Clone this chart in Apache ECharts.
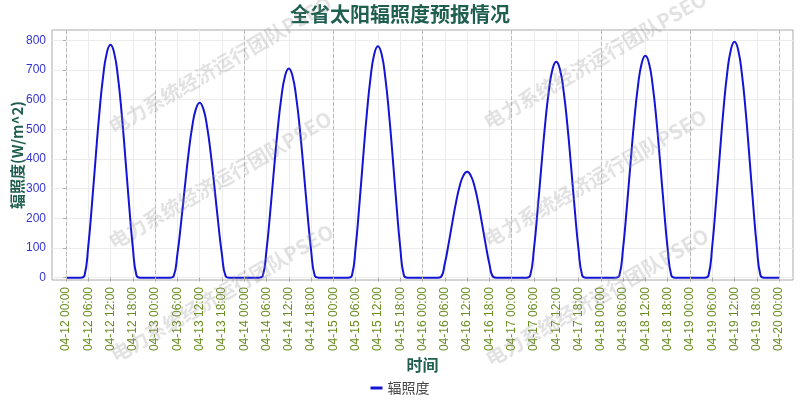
<!DOCTYPE html>
<html>
<head>
<meta charset="utf-8">
<script src="https://cdn.jsdelivr.net/npm/echarts@6/dist/echarts.min.js"></script>
<style>html,body{margin:0;padding:0;background:#fff}#c{width:800px;height:400px}</style>
</head>
<body>
<div id="c"></div>
<script>
// Hourly irradiance (W/m^2) for each day, hours 00..23
var day0412 = [0,0,0,0,0,7,104,246,404,555,677,757,785,757,677,555,404,246,104,7,0,0,0,0];
var day0413 = [0,0,0,0,0,5,78,185,304,417,509,569,590,569,509,417,304,185,78,5,0,0,0,0];
var day0414 = [0,0,0,0,0,6,93,221,363,498,608,680,705,680,608,498,363,221,93,6,0,0,0,0];
var day0415 = [0,0,0,0,0,7,103,245,402,551,673,753,780,753,673,551,402,245,103,7,0,0,0,0];
var day0416 = [0,0,0,0,0,3,47,112,184,252,308,344,357,344,308,252,184,112,47,3,0,0,0,0];
var day0417 = [0,0,0,0,0,7,96,229,375,515,628,703,728,703,628,515,375,229,96,7,0,0,0,0];
var day0418 = [0,0,0,0,0,7,99,235,385,529,645,722,748,722,645,529,385,235,99,7,0,0,0,0];
var day0419 = [0,0,0,0,0,7,105,250,409,562,686,767,795,767,686,562,409,250,105,7,0,0,0,0];
var endValue = 0; // 04-20 00:00

var tickHours = [0,6,12,18,24,30,36,42,48,54,60,66,72,78,84,90,96,102,108,114,120,126,132,138,144,150,156,162,168,174,180,186,192];
var tickLabels = [
 '04-12 00:00','04-12 06:00','04-12 12:00','04-12 18:00',
 '04-13 00:00','04-13 06:00','04-13 12:00','04-13 18:00',
 '04-14 00:00','04-14 06:00','04-14 12:00','04-14 18:00',
 '04-15 00:00','04-15 06:00','04-15 12:00','04-15 18:00',
 '04-16 00:00','04-16 06:00','04-16 12:00','04-16 18:00',
 '04-17 00:00','04-17 06:00','04-17 12:00','04-17 18:00',
 '04-18 00:00','04-18 06:00','04-18 12:00','04-18 18:00',
 '04-19 00:00','04-19 06:00','04-19 12:00','04-19 18:00',
 '04-20 00:00'];
var dayLineHours = [0,24,48,72,96,120,144,168,192];
var yTicks = [0,100,200,300,400,500,600,700,800];

var days = [day0412,day0413,day0414,day0415,day0416,day0417,day0418,day0419];
var seriesData = [];
days.forEach(function(arr, d){ arr.forEach(function(v, h){ seriesData.push([d*24+h, v]); }); });
seriesData.push([192, endValue]);

var teal = '#1f5f50';
var wmText = '电力系统经济运行团队PSEO';
var wmPos = [[220,65],[595,60],[220,180],[595,178],[222,293],[597,297]];
var graphics = wmPos.map(function(p){
  return {type:'text', x:p[0], y:p[1], rotation:Math.PI/6, z:100, silent:true,
    style:{text:wmText, fill:'rgba(150,150,150,0.28)', font:'bold 20px "Noto Sans CJK SC"', align:'center', verticalAlign:'middle'}};
});

var chart = echarts.init(document.getElementById('c'), null, {renderer:'canvas'});
chart.setOption({
  animation:false,
  backgroundColor:'#fff',
  title:{text:'全省太阳辐照度预报情况', left:'center', top:-1,
    textStyle:{fontSize:20, fontWeight:'bold', color:teal, fontFamily:'"Noto Sans CJK SC"'}},
  legend:{data:['辐照度'], bottom:0, left:'center', icon:'rect', itemWidth:12, itemHeight:3, itemGap:5,
    textStyle:{fontSize:14, color:'#444', fontFamily:'"Noto Sans CJK SC"'}},
  grid:{left:52, right:7, top:30, bottom:120, show:true, borderColor:'#aaa', borderWidth:1,
    containLabel:false, outerBoundsMode:'none'},
  xAxis:{type:'value', min:-3.75, max:195.75,
    name:'时间', nameLocation:'middle', nameGap:77, nameMoveOverlap:false,
    nameTextStyle:{fontSize:16, fontWeight:'bold', color:teal, fontFamily:'"Noto Sans CJK SC"'},
    axisLine:{show:false},
    axisTick:{show:true, customValues:tickHours, length:4, lineStyle:{color:'#aaa'}},
    axisLabel:{customValues:tickHours, rotate:90, margin:7, fontSize:12, color:'#6b8e23', fontFamily:'"Liberation Sans"',
      formatter:function(v){ var i = tickHours.indexOf(v); return i>=0 ? tickLabels[i] : ''; }},
    splitLine:{show:true, lineStyle:{color:'#ececec', width:1}}
  },
  yAxis:{type:'value', min:-8, max:835,
    name:'辐照度(W/m^2)', nameLocation:'middle', nameRotate:90, nameGap:27, nameMoveOverlap:false,
    nameTextStyle:{fontSize:15, fontWeight:'bold', color:teal, fontFamily:'"Noto Sans CJK SC"'},
    axisLine:{show:false},
    axisTick:{show:true, customValues:yTicks, length:3, lineStyle:{color:'#aaa'}},
    axisLabel:{customValues:yTicks, fontSize:12, color:'#3535d5', margin:6, fontFamily:'"Liberation Sans"'},
    splitLine:{show:true, lineStyle:{color:'#ececec', width:1}}
  },
  graphic:graphics,
  series:[{
    name:'辐照度', type:'line', data:seriesData, smooth:true, showSymbol:false,
    lineStyle:{color:'#1414d4', width:2}, itemStyle:{color:'#1414d4'},
    markLine:{silent:true, symbol:['none','none'], label:{show:false},
      lineStyle:{type:'dashed', color:'#bbbbbb', width:1},
      data:dayLineHours.map(function(h){ return {xAxis:h}; })}
  }]
});
</script>
</body>
</html>
